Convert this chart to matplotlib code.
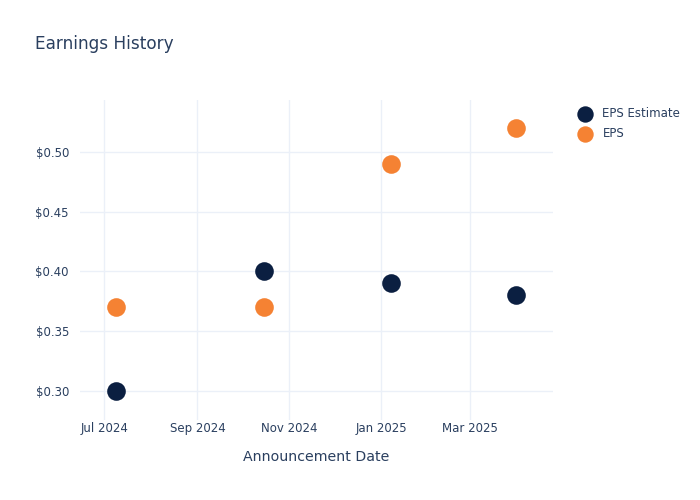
import matplotlib
matplotlib.use("Agg")
import matplotlib.pyplot as plt
import matplotlib.dates as mdates
from datetime import datetime

dates = [datetime(2024, 7, 9), datetime(2024, 10, 15), datetime(2025, 1, 8), datetime(2025, 4, 1)]
eps_estimate = [0.30, 0.40, 0.39, 0.38]
eps_actual = [0.37, 0.37, 0.49, 0.52]
tick_dates = [datetime(2024, 7, 1), datetime(2024, 9, 1), datetime(2024, 11, 1),
              datetime(2025, 1, 1), datetime(2025, 3, 1)]

text_color = "#2a3f5f"
grid_color = "#ebf0f8"

fig = plt.figure(figsize=(7, 5), dpi=100)
ax = fig.add_axes([0.1143, 0.16, 0.675, 0.64])

ax.scatter(dates, eps_estimate, s=180, color="#0b1f41", label="EPS Estimate", zorder=3, linewidths=0)
ax.scatter(dates, eps_actual, s=180, color="#f58233", label="EPS", zorder=3, linewidths=0)

ax.set_xlim(datetime(2024, 6, 15), datetime(2025, 4, 25))
ax.set_ylim(0.2757, 0.5435)
ax.set_yticks([0.30, 0.35, 0.40, 0.45, 0.50])
ax.yaxis.set_major_formatter(plt.FuncFormatter(lambda v, p: f"${v:.2f}"))
ax.set_xticks(tick_dates)
ax.xaxis.set_major_formatter(mdates.DateFormatter("%b %Y"))

ax.grid(True, color=grid_color, linewidth=1)
ax.set_axisbelow(True)
for s in ax.spines.values():
    s.set_visible(False)
ax.tick_params(length=0, colors=text_color, labelsize=8.5)
ax.tick_params(axis="x", pad=1.5)
ax.tick_params(axis="y", pad=8)
ax.set_xlabel("Announcement Date", color=text_color, fontsize=10.2, labelpad=11)

fig.text(0.05, 0.912, "Earnings History", color=text_color, fontsize=12.2, va="center")

leg = ax.legend(loc="upper left", bbox_to_anchor=(1.022, 1.01), frameon=False,
                fontsize=8.5, labelcolor=text_color, handletextpad=0.45,
                labelspacing=0.55, markerscale=0.88)

fig.savefig("out.png", dpi=100)
